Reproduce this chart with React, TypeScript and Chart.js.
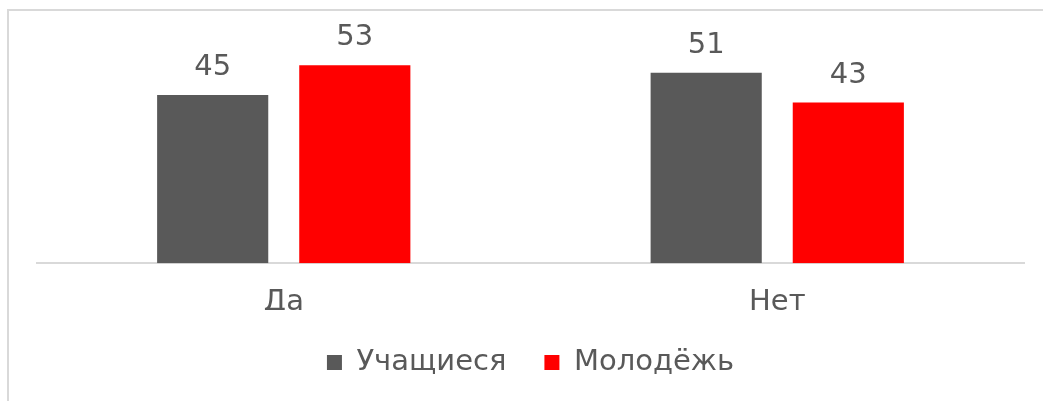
import React, { useEffect, useRef } from "react";
import { Chart, registerables } from "chart.js";

Chart.register(...registerables);

const categories = ["Да", "Нет"];
const seriesNames = ["Учащиеся", "Молодёжь"];
const studentsValues = [45, 51];
const youthValues = [53, 43];
const seriesColors = ["#595959", "#ff0000"];
const yMax = 60;

const FONT = '"DejaVu Sans", "Noto Sans", sans-serif';
const FONT_SIZE = 29;
const TEXT_COLOR = "#595959";

const valueLabels = {
  id: "valueLabels",
  afterDatasetsDraw(chart: any) {
    const ctx = chart.ctx;
    ctx.save();
    ctx.font = `${FONT_SIZE}px ${FONT}`;
    ctx.fillStyle = TEXT_COLOR;
    ctx.textAlign = "center";
    ctx.textBaseline = "alphabetic";
    chart.data.datasets.forEach((ds: any, i: number) => {
      const meta = chart.getDatasetMeta(i);
      meta.data.forEach((bar: any, j: number) => {
        ctx.fillText(String(ds.data[j]), bar.x, bar.y - 20);
      });
    });
    ctx.restore();
  },
};

export default function App() {
  const ref = useRef<HTMLCanvasElement | null>(null);

  useEffect(() => {
    if (!ref.current) return;
    const chart = new Chart(ref.current, {
      type: "bar",
      data: {
        labels: categories,
        datasets: [
          {
            label: seriesNames[0],
            data: studentsValues,
            backgroundColor: seriesColors[0],
          },
          {
            label: seriesNames[1],
            data: youthValues,
            backgroundColor: seriesColors[1],
          },
        ],
      },
      options: {
        animation: false,
        responsive: false,
        maintainAspectRatio: false,
        layout: { padding: { left: 37, right: 19, top: 39, bottom: 14 } },
        datasets: {
          bar: { categoryPercentage: 0.576, barPercentage: 0.782 },
        },
        scales: {
          x: {
            grid: { display: false, drawTicks: false },
            border: { display: true, color: "#d9d9d9", width: 2 },
            ticks: {
              padding: 22,
              color: TEXT_COLOR,
              font: { family: FONT, size: FONT_SIZE },
            },
            afterFit(scale: any) {
              scale.height = scale.height - 32;
            },
          },
          y: {
            display: false,
            min: 0,
            max: yMax,
          },
        },
        plugins: {
          legend: {
            position: "bottom",
            labels: {
              boxWidth: 15,
              boxHeight: 15,
              padding: 38,
              color: TEXT_COLOR,
              font: { family: FONT, size: FONT_SIZE },
            },
          },
          tooltip: { enabled: false },
        },
      },
      plugins: [valueLabels],
    });
    return () => chart.destroy();
  }, []);

  return (
    <>
      <canvas
        ref={ref}
        width={1043}
        height={401}
        style={{ position: "fixed", left: 0, top: 0, width: 1043, height: 401 }}
      />
      <div
        style={{
          position: "fixed",
          left: 7,
          top: 9,
          width: 1100,
          height: 500,
          borderLeft: "2px solid #d9d9d9",
          borderTop: "2px solid #d9d9d9",
          pointerEvents: "none",
        }}
      />
    </>
  );
}
